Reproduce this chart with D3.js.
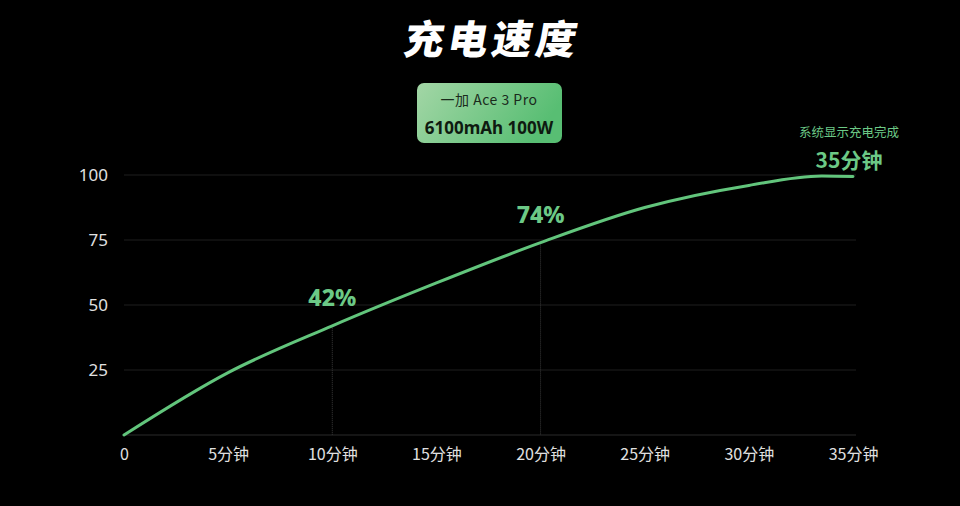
<!DOCTYPE html>
<html><head><meta charset="utf-8">
<script src="https://cdn.jsdelivr.net/npm/d3@7/dist/d3.min.js"></script>
<style>
html,body{margin:0;padding:0;background:#000;}
svg{display:block;font-family:"Noto Sans CJK SC","Noto Sans",sans-serif;}
</style></head>
<body>
<svg id="c" width="960" height="506"></svg>
<script>
const title = "充电速度";
const badgeLine1 = "一加 Ace 3 Pro";
const badgeLine2 = "6100mAh 100W";
const minutes = [0, 5, 10, 15, 20, 25, 30, 33.5, 35];
const percent = [0, 24, 42, 58.5, 74, 87.5, 96, 99.6, 99.4];
const yTicks = [25, 50, 75, 100];
const xTicks = [0, 5, 10, 15, 20, 25, 30, 35];
const xTickLabels = ["0", "5分钟", "10分钟", "15分钟", "20分钟", "25分钟", "30分钟", "35分钟"];
const callouts = [{t: 10, v: 42, label: "42%"}, {t: 20, v: 74, label: "74%"}];
const endNote = "系统显示充电完成";
const endLabel = "35分钟";

const svg = d3.select("#c");
const x = d3.scaleLinear().domain([0, 35]).range([124, 853]);
const y = d3.scaleLinear().domain([0, 100]).range([435, 175]);
const green = "#62c57c";

const defs = svg.append("defs");
const g = defs.append("linearGradient").attr("id", "bg").attr("x1", "0").attr("x2", "1").attr("y1", "0").attr("y2", "0.3");
g.append("stop").attr("offset", "0").attr("stop-color", "#a3d6a6");
g.append("stop").attr("offset", "1").attr("stop-color", "#58be73");

// title
svg.append("text").attr("x", 490).attr("y", 54)
  .attr("text-anchor", "middle").attr("fill", "#fff")
  .attr("font-size", 40).attr("font-weight", 900).attr("letter-spacing", 4)
  .attr("transform", "skewX(-10) translate(9.5,0)")
  .text(title);

// badge
svg.append("rect").attr("x", 417).attr("y", 83).attr("width", 145).attr("height", 60)
  .attr("rx", 7).attr("fill", "url(#bg)");
svg.append("text").attr("x", 489).attr("y", 105).attr("text-anchor", "middle")
  .attr("font-size", 14).attr("fill", "#1a2a1c").attr("letter-spacing", 0.5).text(badgeLine1);
svg.append("text").attr("x", 489).attr("y", 134).attr("text-anchor", "middle")
  .attr("font-size", 17).attr("font-weight", 700).attr("fill", "#0e1a10")
  .attr("font-family", "'Noto Sans',sans-serif").text(badgeLine2);

// gridlines
const grid = svg.append("g");
grid.selectAll("line").data([0].concat(yTicks)).join("line")
  .attr("x1", x(0)).attr("x2", 856)
  .attr("y1", d => y(d)).attr("y2", d => y(d))
  .attr("stroke", d => d === 0 ? "#2a2a2a" : "#1f1f1f").attr("stroke-width", 1);

// y axis labels
const yAxis = d3.axisLeft(y).tickValues(yTicks).tickSize(0).tickPadding(0);
svg.append("g").attr("transform", "translate(108,0)").call(yAxis)
  .call(s => s.select(".domain").remove())
  .selectAll("text").attr("fill", "#e0e0e0").attr("font-size", 17)
  .attr("font-family", "'Noto Sans','Noto Sans CJK SC',sans-serif");

// x axis labels
const xAxis = d3.axisBottom(x).tickValues(xTicks).tickSize(0).tickPadding(0)
  .tickFormat((d, i) => xTickLabels[i]);
svg.append("g").attr("transform", "translate(0,449)").call(xAxis)
  .call(s => s.select(".domain").remove())
  .selectAll("text").attr("fill", "#e0e0e0").attr("font-size", 16)
  .attr("font-family", "'Noto Sans CJK SC','Noto Sans',sans-serif");

// callout vertical lines
svg.append("g").selectAll("line").data(callouts).join("line")
  .attr("x1", d => x(d.t)).attr("x2", d => x(d.t))
  .attr("y1", d => y(d.v)).attr("y2", y(0))
  .attr("stroke", "#3a3a3a").attr("stroke-width", 1).attr("stroke-dasharray", "1,1");

// line
const data = minutes.map((t, i) => ({t, v: percent[i]}));
const line = d3.line().x(d => x(d.t)).y(d => y(d.v)).curve(d3.curveMonotoneX);
svg.append("path").datum(data).attr("d", line)
  .attr("fill", "none").attr("stroke", green).attr("stroke-width", 3)
  .attr("stroke-linecap", "round").attr("stroke-linejoin", "round");

// callout labels
svg.append("g").selectAll("text").data(callouts).join("text")
  .attr("x", d => x(d.t)).attr("y", d => y(d.v) - 20)
  .attr("text-anchor", "middle").attr("fill", "#6cc986")
  .attr("font-size", 23).attr("font-weight", 800)
  .attr("font-family", "'Noto Sans','Noto Sans CJK SC',sans-serif")
  .text(d => d.label);

// end labels
svg.append("text").attr("x", 849).attr("y", 137).attr("text-anchor", "middle")
  .attr("fill", "#6cc986").attr("font-size", 12.5).text(endNote);
svg.append("text").attr("x", 849).attr("y", 168).attr("text-anchor", "middle")
  .attr("fill", "#6cc986").attr("font-size", 21).attr("font-weight", 700).text(endLabel);
</script>
</body></html>
